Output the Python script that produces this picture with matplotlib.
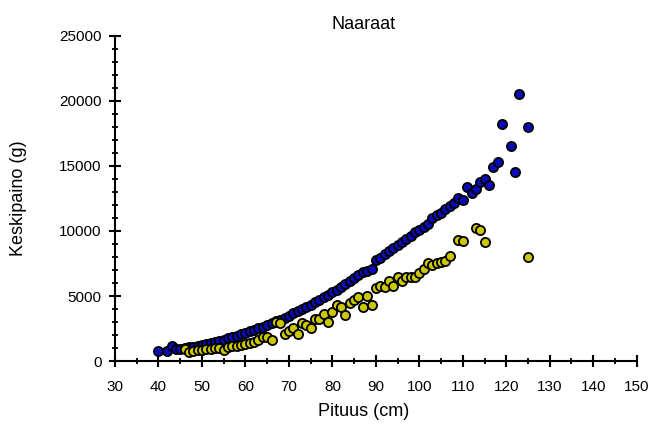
import matplotlib
matplotlib.use("Agg")
import matplotlib.pyplot as plt
from matplotlib.ticker import MultipleLocator

plt.rcParams['font.family'] = ['Liberation Sans', 'DejaVu Sans']

# Pituus (cm) ja keskipaino (g) – sininen sarja
blue_x = [40, 42, 43, 44, 45, 46, 47, 48, 49, 50, 51, 52, 53, 54, 55, 56, 57, 58, 59,
          60, 61, 62, 63, 64, 65, 66, 67, 68, 69, 70, 71, 72, 73, 74, 75, 76, 77, 78, 79,
          80, 81, 82, 83, 84, 85, 86, 87, 88, 89, 90, 91, 92, 93, 94, 95, 96, 97, 98, 99,
          100, 101, 102, 103, 104, 105, 106, 107, 108, 109, 110, 111, 112, 113, 114, 115,
          116, 117, 118, 119, 121, 122, 123, 125]
blue_y = [790, 790, 1150, 950, 960, 1000, 1050, 1100, 1150, 1250, 1320, 1400, 1480, 1560,
          1650, 1750, 1850, 1950, 2050, 2150, 2270, 2390, 2510, 2640, 2770, 2900, 3040,
          3190, 3340, 3500, 3660, 3820, 3990, 4160, 4340, 4520, 4710, 4900, 5100, 5300,
          5500, 5710, 5920, 6140, 6360, 6590, 6820, 6900, 7050, 7750, 7950, 8200, 8450,
          8700, 8950, 9150, 9400, 9650, 9900, 10100, 10300, 10550, 11000, 11250, 11400,
          11700, 11950, 12150, 12500, 12350, 13400, 12900, 13200, 13750, 14000, 13500,
          14900, 15300, 18200, 16500, 14550, 20500, 18000]

# Keltainen sarja
yellow_x = [46, 47, 48, 49, 50, 51, 52, 53, 54, 55, 56, 57, 58, 59, 60, 61, 62, 63, 64,
            65, 66, 67, 68, 69, 70, 71, 72, 73, 74, 75, 76, 77, 78, 79, 80, 81, 82, 83,
            84, 85, 86, 87, 88, 89, 90, 91, 92, 93, 94, 95, 96, 97, 98, 99, 100, 101, 102,
            103, 104, 105, 106, 107, 109, 110, 113, 114, 115, 125]
yellow_y = [900, 680, 780, 850, 870, 900, 950, 980, 1020, 850, 1080, 1120, 1180, 1250,
            1330, 1400, 1500, 1600, 1850, 1850, 1650, 3000, 2900, 2100, 2330, 2510, 2080,
            2900, 2750, 2510, 3200, 3200, 3620, 3020, 3800, 4300, 4130, 3540, 4480, 4690,
            4950, 4130, 5000, 4310, 5650, 5770, 5700, 6180, 5770, 6490, 6180, 6440, 6490,
            6440, 6750, 7050, 7560, 7380, 7560, 7640, 7720, 8080, 9310, 9250, 10250, 10080,
            9130, 8020]

fig = plt.figure(figsize=(6.56, 4.29), dpi=100)
ax = fig.add_axes([0.1753, 0.1585, 0.7953, 0.7576])

ms = 6.6
ax.plot(blue_x, blue_y, 'o', ms=ms, mfc='#0A0AB8', mec='black', mew=1.3, zorder=3,
        clip_on=False)
ax.plot(yellow_x, yellow_y, 'o', ms=ms, mfc='#CCC800', mec='black', mew=1.3, zorder=3,
        clip_on=False)

ax.set_xlim(30, 150)
ax.set_ylim(0, 25000)
ax.xaxis.set_major_locator(MultipleLocator(10))
ax.xaxis.set_minor_locator(MultipleLocator(5))
ax.yaxis.set_major_locator(MultipleLocator(5000))
ax.yaxis.set_minor_locator(MultipleLocator(1000))

for side in ('top', 'right'):
    ax.spines[side].set_visible(False)
for side in ('left', 'bottom'):
    ax.spines[side].set_linewidth(1.5)
    ax.spines[side].set_color('black')

ax.tick_params(which='major', direction='inout', length=9, width=1.5,
               labelsize=11, colors='black')
ax.tick_params(axis='x', which='major', pad=9)
ax.tick_params(axis='y', which='major', pad=5)
ax.tick_params(which='minor', direction='inout', length=5, width=1.3)

ax.set_xlabel('Pituus (cm)', fontsize=13)
ax.xaxis.set_label_coords(0.477, -0.13)
ax.set_ylabel('Keskipaino (g)', fontsize=13)
ax.yaxis.set_label_coords(-0.168, 0.5)
ax.set_title('Naaraat', fontsize=13, x=0.477, y=0.997)

fig.savefig('out.png', dpi=100)
